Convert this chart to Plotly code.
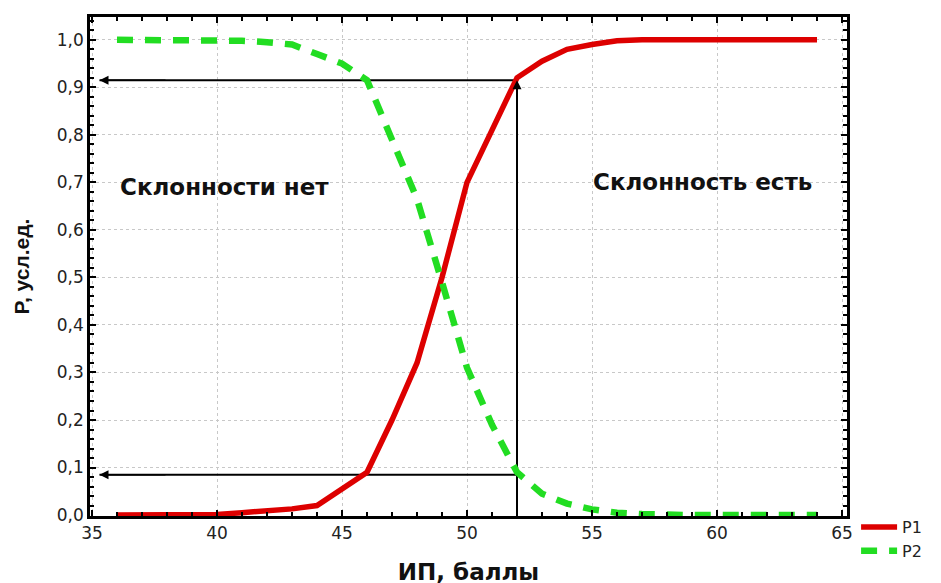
import plotly.graph_objects as go

x_vals = [36, 37, 38, 39, 40, 41, 42, 43, 44, 45, 46, 47, 48, 49, 50,
          51, 52, 53, 54, 55, 56, 57, 58, 59, 60, 61, 62, 63, 64]
p1 = [0.0, 0.0, 0.0, 0.0, 0.001, 0.005, 0.008, 0.013, 0.02, 0.055, 0.09, 0.2, 0.32, 0.5, 0.7,
      0.81, 0.92, 0.955, 0.98, 0.99, 0.998, 1.0, 1.0, 1.0, 1.0, 1.0, 1.0, 1.0, 1.0]
p2 = [1.0, 1.0, 1.0, 1.0, 1.0, 0.998, 0.995, 0.99, 0.97, 0.95, 0.915, 0.79, 0.665, 0.49, 0.31,
      0.19, 0.09, 0.045, 0.024, 0.012, 0.005, 0.002, 0.0, 0.0, 0.0, 0.0, 0.0, 0.0, 0.0]

x_cut = 52
p_hi = 0.915
p_lo = 0.085
x_ticks = [35, 40, 45, 50, 55, 60, 65]
y_ticks = [0.0, 0.1, 0.2, 0.3, 0.4, 0.5, 0.6, 0.7, 0.8, 0.9, 1.0]
y_tick_text = ["0,0", "0,1", "0,2", "0,3", "0,4", "0,5", "0,6", "0,7", "0,8", "0,9", "1,0"]

FONT = "Liberation Sans, Arial, sans-serif"
WIDE = "DejaVu Sans, Verdana, sans-serif"

fig = go.Figure()

# guide lines
fig.add_trace(go.Scatter(x=[x_cut, x_cut], y=[0, p_hi], mode="lines",
                         line=dict(color="black", width=2), showlegend=False, hoverinfo="skip"))
fig.add_trace(go.Scatter(x=[35.3, x_cut], y=[p_hi, p_hi], mode="lines",
                         line=dict(color="black", width=2), showlegend=False, hoverinfo="skip"))
fig.add_trace(go.Scatter(x=[35.3, x_cut], y=[p_lo, p_lo], mode="lines",
                         line=dict(color="black", width=2), showlegend=False, hoverinfo="skip"))

fig.add_trace(go.Scatter(x=x_vals, y=p1, mode="lines", name="P1",
                         line=dict(color="#dd0000", width=5.5)))
fig.add_trace(go.Scatter(x=x_vals, y=p2, mode="lines", name="P2",
                         line=dict(color="#22dd22", width=6.5, dash="16px,12px")))

for (ax_, ay_, xx, yy) in [(38, p_hi, 35.3, p_hi), (38, p_lo, 35.3, p_lo), (x_cut, 0.85, x_cut, p_hi)]:
    fig.add_annotation(x=xx, y=yy, ax=ax_, ay=ay_, xref="x", yref="y", axref="x", ayref="y",
                       showarrow=True, arrowhead=2, arrowsize=1.2, arrowwidth=1.5,
                       arrowcolor="black", text="")

fig.add_annotation(x=40.3, y=0.69, xref="x", yref="y", text="<b>Склонности нет</b>",
                   showarrow=False, font=dict(family=WIDE, size=23, color="#111"))
fig.add_annotation(x=59.4, y=0.70, xref="x", yref="y", text="<b>Склонность есть</b>",
                   showarrow=False, font=dict(family=WIDE, size=23, color="#111"))

fig.update_layout(
    width=941, height=583,
    margin=dict(l=82, r=102, t=6, b=75),
    paper_bgcolor="white", plot_bgcolor="white",
    font=dict(family=WIDE, size=17, color="#222"),
    legend=dict(x=1.012, y=0.012, xanchor="left", yanchor="top",
                font=dict(family=WIDE, size=16, color="#222"),
                bgcolor="rgba(0,0,0,0)", tracegroupgap=0, itemwidth=36),
    showlegend=True,
)
fig.update_xaxes(
    range=[34.92, 65.2], tickvals=x_ticks, ticktext=[str(v) for v in x_ticks],
    showline=True, linecolor="black", linewidth=2.5, mirror="ticks",
    ticks="inside", ticklen=6, tickwidth=2, tickcolor="black",
    minor=dict(dtick=1, ticks="inside", ticklen=4, tickwidth=1.5, tickcolor="black", showgrid=False),
    showgrid=True, gridcolor="#c8c8c8", griddash="dot", gridwidth=1, zeroline=False,
    title=dict(text="<b>ИП, баллы</b>", font=dict(family=WIDE, size=23, color="#111"), standoff=22),
    tickfont=dict(family=WIDE, size=17, color="#222"),
)
fig.update_yaxes(
    range=[-0.002, 1.048], tickvals=y_ticks, ticktext=y_tick_text,
    showline=True, linecolor="black", linewidth=2.5, mirror="ticks",
    ticks="inside", ticklen=6, tickwidth=2, tickcolor="black",
    minor=dict(dtick=0.02, ticks="inside", ticklen=4, tickwidth=1.5, tickcolor="black", showgrid=False),
    showgrid=True, gridcolor="#c8c8c8", griddash="dot", gridwidth=1, zeroline=False,
    title=dict(text="<b>P, усл.ед.</b>", font=dict(family=FONT, size=21, color="#111"), standoff=22),
    tickfont=dict(family=WIDE, size=17, color="#222"),
)

fig.write_html("out.html")
